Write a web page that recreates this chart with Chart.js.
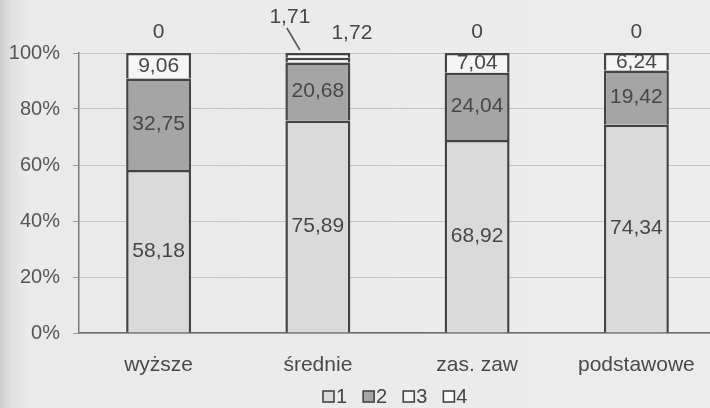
<!DOCTYPE html>
<html>
<head>
<meta charset="utf-8">
<script src="https://cdn.jsdelivr.net/npm/chart.js@4/dist/chart.umd.min.js"></script>
<style>
  html, body { margin: 0; padding: 0; width: 710px; height: 408px; overflow: hidden; }
  body { background: linear-gradient(to right, #cdcdcd 0px, #e2e2e2 12px, #eaeaea 28px, #ececec 100%); }
  #wrap { position: absolute; left: 0; top: 0; width: 716px; height: 408px; }
</style>
</head>
<body>
<div id="wrap"><canvas id="chart" width="716" height="408"></canvas></div>
<script>
// Education level categories and the share (%) of each answer group
const categories = ['wyższe', 'średnie', 'zas. zaw', 'podstawowe'];
const seriesNames = ['1', '2', '3', '4'];
const share1 = [58.18, 75.89, 68.92, 74.34];
const share2 = [32.75, 20.68, 24.04, 19.42];
const share3 = [9.06, 1.71, 7.04, 6.24];
const share4 = [0, 1.72, 0, 0];
const yTickValues = [0, 20, 40, 60, 80, 100];

const FONT = '"Liberation Sans", Arial, Helvetica, sans-serif';
const fills = ['#dadada', '#a5a5a5', '#f5f5f5', '#fafafa'];
const edge = '#444';

const fmt = v => v === 0 ? '0' : v.toFixed(2).replace('.', ',');

// Numbers written on / beside each segment
const valueLabels = {
  id: 'valueLabels',
  afterDatasetsDraw(chart) {
    const ctx = chart.ctx;
    const top = chart.chartArea.top;
    ctx.save();
    ctx.font = '21px ' + FONT;
    ctx.fillStyle = '#474747';
    ctx.textAlign = 'center';
    ctx.textBaseline = 'middle';
    chart.data.datasets.forEach((ds, di) => {
      chart.getDatasetMeta(di).data.forEach((bar, i) => {
        const v = ds.data[i];
        const txt = fmt(v);
        if (v === 0) {
          ctx.fillText(txt, bar.x, top - 21);
        } else if (v < 3) {
          if (di === 2) {
            ctx.fillText(txt, bar.x - 28, top - 36);
            ctx.beginPath();
            ctx.strokeStyle = '#555';
            ctx.lineWidth = 1.5;
            ctx.moveTo(bar.x - 31, top - 25);
            ctx.lineTo(bar.x - 18, top - 3);
            ctx.stroke();
          } else {
            ctx.fillText(txt, bar.x + 34, top - 20);
          }
        } else {
          ctx.fillText(txt, bar.x, (bar.y + bar.base) / 2);
        }
      });
    });
    ctx.restore();
  }
};

// Legend row under the category names
const legendRow = {
  id: 'legendRow',
  afterDraw(chart) {
    const ctx = chart.ctx;
    ctx.save();
    ctx.font = '20px ' + FONT;
    ctx.textBaseline = 'middle';
    ctx.textAlign = 'left';
    let x = 323;
    const y = 397;
    chart.data.datasets.forEach((ds) => {
      ctx.fillStyle = ds.backgroundColor;
      ctx.fillRect(x, y - 6, 11, 11);
      ctx.strokeStyle = '#444';
      ctx.lineWidth = 1.6;
      ctx.strokeRect(x, y - 6, 11, 11);
      ctx.fillStyle = '#444';
      ctx.fillText(ds.label, x + 13, y);
      x += 13 + ctx.measureText(ds.label).width + 16;
    });
    ctx.restore();
  }
};

const seriesData = [share1, share2, share3, share4];

new Chart(document.getElementById('chart'), {
  type: 'bar',
  data: {
    labels: categories,
    datasets: seriesData.map((d, k) => ({
      label: seriesNames[k],
      data: d,
      backgroundColor: fills[k],
      borderColor: edge,
      borderWidth: 2.5,
      categoryPercentage: 1,
      barPercentage: 0.408
    }))
  },
  options: {
    responsive: false,
    devicePixelRatio: 1,
    animation: false,
    layout: { padding: { top: 53, right: 0, bottom: 0, left: 0 } },
    plugins: { legend: { display: false }, tooltip: { enabled: false }, title: { display: false } },
    scales: {
      x: {
        stacked: true,
        grid: { display: false },
        border: { display: true, color: '#6e6e6e', width: 1.5 },
        ticks: { color: '#4a4a4a', font: { family: FONT, size: 21 }, padding: 12, maxRotation: 0 },
        afterFit: s => { s.height = 75; }
      },
      y: {
        stacked: true,
        min: 0,
        max: 100,
        afterBuildTicks: s => { s.ticks = yTickValues.map(v => ({ value: v })); },
        grid: { color: '#c4c4c4', lineWidth: 1, tickLength: 6, tickColor: '#9a9a9a' },
        border: { display: true, color: '#7d7d7d', width: 1.5 },
        ticks: { color: '#555', font: { family: FONT, size: 20 }, padding: 13, callback: v => v + '%' },
        afterFit: s => { s.width = 79; }
      }
    }
  },
  plugins: [valueLabels, legendRow]
});
</script>
</body>
</html>
